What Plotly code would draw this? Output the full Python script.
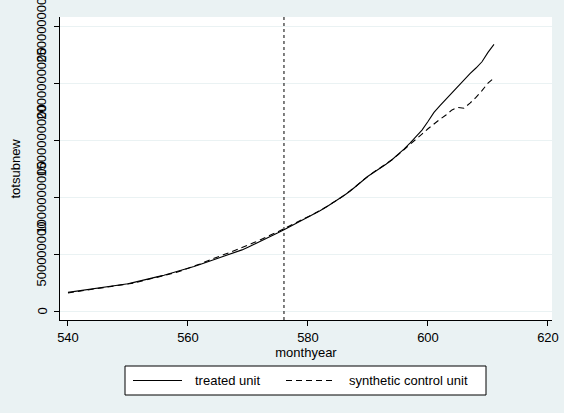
import plotly.graph_objects as go

months = list(range(540, 612))

treated_millions = [
    168, 175, 182, 188, 195, 202, 209, 217, 225, 233,
    243, 256, 270, 282, 293, 306, 319, 333, 348, 364,
    380, 396, 413, 431, 450, 469, 485, 500, 518, 541,
    565, 589, 613, 638, 664, 691, 718, 745, 771, 798,
    826, 855, 885, 916, 948, 981, 1018, 1056, 1098, 1148,
    1188, 1223, 1256, 1293, 1333, 1378, 1426, 1478, 1533, 1593,
    1668, 1748, 1808, 1866, 1923, 1978, 2033, 2088, 2138, 2193,
    2275, 2345,
]

synthetic_millions = [
    163, 171, 179, 187, 194, 200, 206, 213, 221, 230,
    240, 250, 263, 276, 288, 300, 313, 328, 343, 360,
    378, 398, 418, 440, 462, 482, 500, 518, 538, 560,
    582, 605, 628, 651, 675, 701, 728, 753, 778, 804,
    831, 858, 886, 916, 948, 983, 1020, 1058, 1100, 1146,
    1188, 1226, 1260, 1295, 1333, 1376, 1420, 1466, 1513, 1558,
    1605, 1648, 1688, 1725, 1770, 1792, 1785, 1830, 1880, 1940,
    2005, 2050,
]

series_names = ["treated unit", "synthetic control unit"]

treated = [v * 1e6 for v in treated_millions]
synthetic = [v * 1e6 for v in synthetic_millions]

treatment_month = 576
x_ticks = [540, 560, 580, 600, 620]
y_ticks = [0, 500000000, 1000000000, 1500000000, 2000000000, 2500000000]
y_tick_text = [str(v) for v in y_ticks]

BG = "#EAF2F3"
FONT = "Liberation Sans, Arial, sans-serif"
FS = 13
LEG_FS = 13
W, H = 564, 413
L, R, T, B = 60, 12, 17, 93
PW, PH = W - L - R, H - T - B


def px_x(p):
    return (p - L) / PW


def px_y(p):
    return (H - B - p) / PH


fig = go.Figure()
fig.add_trace(go.Scatter(
    x=months, y=treated, mode="lines", name=series_names[0],
    line=dict(color="black", width=1.1), showlegend=False,
))
fig.add_trace(go.Scatter(
    x=months, y=synthetic, mode="lines", name=series_names[1],
    line=dict(color="black", width=1.1, dash="6px,4px"), showlegend=False,
))

annotations = []
# y tick labels, rotated and centred on ticks
for v, t in zip(y_ticks, y_tick_text):
    annotations.append(dict(
        x=px_x(42), xref="paper", y=v, yref="y", text=t, textangle=-90,
        showarrow=False, xanchor="center", yanchor="middle",
        font=dict(size=FS, family=FONT, color="black"),
    ))
# y axis title
annotations.append(dict(
    x=px_x(15), xref="paper", y=0.5, yref="paper", text="totsubnew",
    textangle=-90, showarrow=False, xanchor="center", yanchor="middle",
    font=dict(size=FS, family=FONT, color="black"),
))

shapes = [
    # treatment month marker
    dict(type="line", xref="x", yref="paper",
         x0=treatment_month, x1=treatment_month, y0=0, y1=1,
         line=dict(color="black", width=1, dash="3px,3px")),
    # legend box
    dict(type="rect", xref="paper", yref="paper",
         x0=px_x(125), x1=px_x(486), y0=px_y(395), y1=px_y(366),
         fillcolor="white", line=dict(color="black", width=1)),
    dict(type="line", xref="paper", yref="paper",
         x0=px_x(133), x1=px_x(182), y0=px_y(380.5), y1=px_y(380.5),
         line=dict(color="black", width=1.1)),
    dict(type="line", xref="paper", yref="paper",
         x0=px_x(286), x1=px_x(336), y0=px_y(380.5), y1=px_y(380.5),
         line=dict(color="black", width=1.1, dash="6px,4px")),
]
annotations.append(dict(
    x=px_x(193), xref="paper", y=px_y(380.5), yref="paper", text=series_names[0],
    showarrow=False, xanchor="left", yanchor="middle",
    font=dict(size=LEG_FS, family=FONT, color="black"),
))
annotations.append(dict(
    x=px_x(347), xref="paper", y=px_y(380.5), yref="paper", text=series_names[1],
    showarrow=False, xanchor="left", yanchor="middle",
    font=dict(size=LEG_FS, family=FONT, color="black"),
))

fig.update_layout(
    width=W, height=H,
    margin=dict(l=L, r=R, t=T, b=B, autoexpand=False),
    paper_bgcolor=BG,
    plot_bgcolor="white",
    font=dict(family=FONT, size=FS, color="black"),
    showlegend=False,
    annotations=annotations,
    shapes=shapes,
    xaxis=dict(
        range=[538.67, 620.67],
        tickvals=x_ticks,
        ticks="outside", ticklen=5, tickcolor="black",
        showline=True, linecolor="black", linewidth=1,
        showgrid=False, zeroline=False, automargin=False,
        title=dict(text="monthyear", standoff=0, font=dict(size=FS)),
        tickfont=dict(size=FS),
    ),
    yaxis=dict(
        range=[-74600000, 2586000000],
        tickvals=y_ticks,
        showticklabels=False,
        ticks="outside", ticklen=5, tickcolor="black",
        showline=True, linecolor="black", linewidth=1,
        showgrid=True, gridcolor=BG, gridwidth=1,
        zeroline=False, automargin=False,
    ),
)

fig.write_html(
    "out.html",
    config={"displayModeBar": False},
    post_script="document.body.style.margin='0px';document.body.style.padding='0px';",
)
